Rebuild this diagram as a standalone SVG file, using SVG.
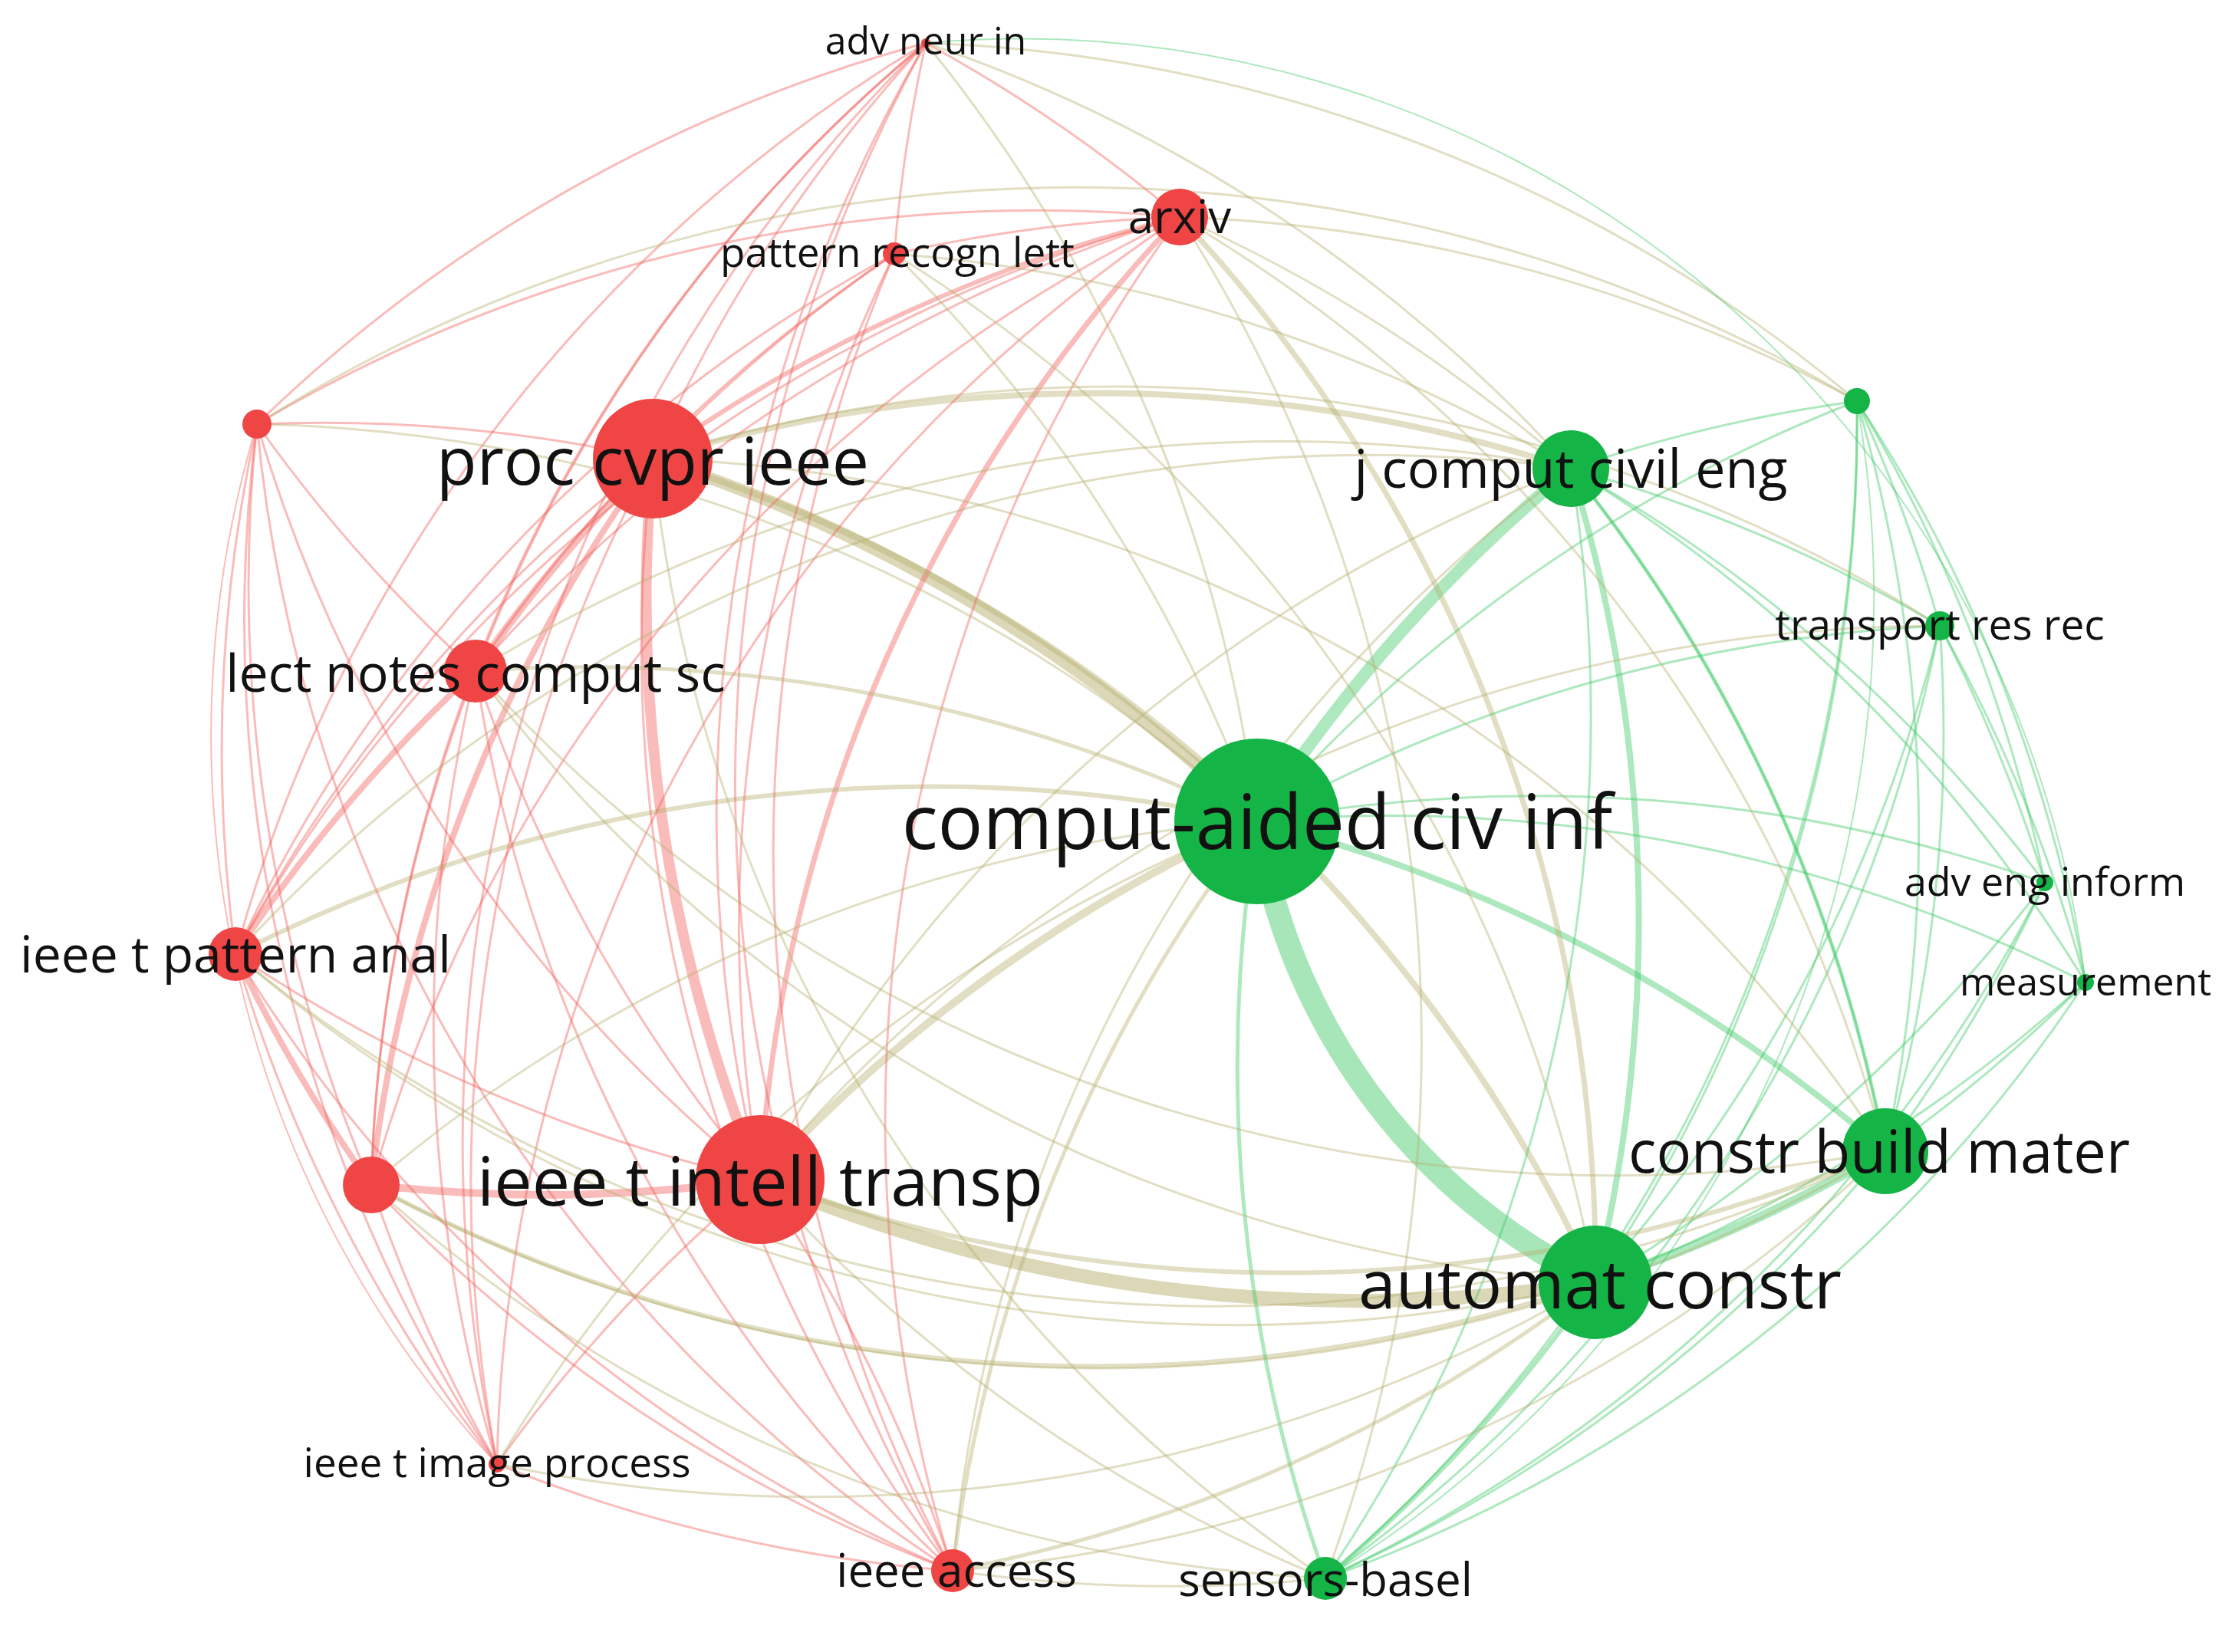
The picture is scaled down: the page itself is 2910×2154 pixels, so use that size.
<svg xmlns="http://www.w3.org/2000/svg" width="2910" height="2154" viewBox="0 0 2910 2154">
<style>
.e{fill:none;stroke-linecap:round}
.r{stroke:#f0605a;stroke-opacity:.42;stroke-width:3}
.g{stroke:#3cc864;stroke-opacity:.42;stroke-width:3}
.m{stroke:#b8b070;stroke-opacity:.42;stroke-width:3}
.rn{fill:#f04545}
.gn{fill:#14b446}
text{font-family:"Open Sans","Noto Sans",sans-serif;fill:#111;text-anchor:middle;dominant-baseline:central}
</style>
<rect width="2910" height="2154" fill="#fff"/>
<g id="connectors">
<path class="e g" style="stroke-width:30;stroke-opacity:.45" d="M1639 1071 A800 800 0 0 0 2080 1672"/>
<path class="e g" style="stroke-width:16" d="M1639 1071 A2000 2000 0 0 1 2048 611"/>
<path class="e m" style="stroke-width:18;stroke-opacity:.5" d="M991 1538 A2000 2000 0 0 0 2080 1672"/>
<path class="e m" style="stroke-width:16;stroke-opacity:.5" d="M851 598 A2000 2000 0 0 1 1639 1071"/>
<path class="e r" style="stroke-width:14" d="M851 598 A2000 2000 0 0 0 991 1538"/>
<path class="e r" style="stroke-width:10" d="M991 1538 A2000 2000 0 0 1 484 1545"/>
<path class="e r" style="stroke-width:10" d="M851 598 A2000 2000 0 0 0 620 875"/>
<path class="e r" style="stroke-width:8" d="M620 875 A2000 2000 0 0 0 307 1244"/>
<path class="e r" style="stroke-width:8" d="M307 1244 A2000 2000 0 0 0 484 1545"/>
<path class="e g" style="stroke-width:8" d="M2048 611 A2000 2000 0 0 1 2080 1672"/>
<path class="e g" style="stroke-width:12" d="M2080 1672 A2000 2000 0 0 0 2458 1501"/>
<path class="e g" style="stroke-width:8" d="M1639 1071 A2000 2000 0 0 1 2458 1501"/>
<path class="e m" style="stroke-width:10" d="M991 1538 A2000 2000 0 0 1 1639 1071"/>
<path class="e r" style="stroke-width:7" d="M991 1538 A2000 2000 0 0 1 1538 283"/>
<path class="e r" style="stroke-width:6" d="M851 598 A2000 2000 0 0 1 1538 283"/>
<path class="e m" style="stroke-width:7" d="M1538 283 A2000 2000 0 0 1 2080 1672"/>
<path class="e m" style="stroke-width:8" d="M851 598 A2000 2000 0 0 1 2048 611"/>
<path class="e m" style="stroke-width:8" d="M851 598 A2000 2000 0 0 1 2080 1672"/>
<path class="e r" style="stroke-width:8" d="M851 598 A2000 2000 0 0 0 484 1545"/>
<path class="e m" style="stroke-width:6" d="M307 1244 A2000 2000 0 0 1 1639 1071"/>
<path class="e m" style="stroke-width:6" d="M484 1545 A2000 2000 0 0 0 2080 1672"/>
<path class="e r" d="M1207 56 A2000 2000 0 0 1 1538 283"/>
<path class="e r" d="M1207 56 A2000 2000 0 0 0 1166 331"/>
<path class="e r" d="M1207 56 A2000 2000 0 0 0 335 553"/>
<path class="e r" d="M1207 56 A2000 2000 0 0 0 851 598"/>
<path class="e r" d="M1207 56 A2000 2000 0 0 0 620 875"/>
<path class="e r" d="M1207 56 A2000 2000 0 0 0 307 1244"/>
<path class="e r" d="M1207 56 A2000 2000 0 0 0 991 1538"/>
<path class="e r" d="M1207 56 A2000 2000 0 0 0 484 1545"/>
<path class="e r" d="M1207 56 A2000 2000 0 0 0 648 1909"/>
<path class="e r" d="M1207 56 A2000 2000 0 0 0 1242 2048"/>
<path class="e r" d="M1538 283 A2000 2000 0 0 0 1166 331"/>
<path class="e r" d="M1538 283 A2000 2000 0 0 0 335 553"/>
<path class="e r" d="M1538 283 A2000 2000 0 0 0 620 875"/>
<path class="e r" d="M1538 283 A2000 2000 0 0 0 307 1244"/>
<path class="e r" d="M1538 283 A2000 2000 0 0 0 484 1545"/>
<path class="e r" d="M1538 283 A2000 2000 0 0 0 648 1909"/>
<path class="e r" d="M1538 283 A2000 2000 0 0 0 1242 2048"/>
<path class="e r" d="M1166 331 A2000 2000 0 0 0 851 598"/>
<path class="e r" d="M1166 331 A2000 2000 0 0 0 620 875"/>
<path class="e r" d="M1166 331 A2000 2000 0 0 0 307 1244"/>
<path class="e r" d="M1166 331 A2000 2000 0 0 0 991 1538"/>
<path class="e r" d="M1166 331 A2000 2000 0 0 0 1242 2048"/>
<path class="e r" d="M335 553 A2000 2000 0 0 1 851 598"/>
<path class="e r" d="M335 553 A2000 2000 0 0 0 620 875"/>
<path class="e r" d="M335 553 A2000 2000 0 0 0 307 1244"/>
<path class="e r" d="M335 553 A2000 2000 0 0 0 991 1538"/>
<path class="e r" d="M335 553 A2000 2000 0 0 0 484 1545"/>
<path class="e r" d="M335 553 A2000 2000 0 0 0 648 1909"/>
<path class="e r" d="M335 553 A2000 2000 0 0 0 1242 2048"/>
<path class="e r" d="M851 598 A2000 2000 0 0 0 307 1244"/>
<path class="e r" d="M851 598 A2000 2000 0 0 0 648 1909"/>
<path class="e r" d="M851 598 A2000 2000 0 0 0 1242 2048"/>
<path class="e r" d="M620 875 A2000 2000 0 0 0 991 1538"/>
<path class="e r" d="M620 875 A2000 2000 0 0 0 484 1545"/>
<path class="e r" d="M620 875 A2000 2000 0 0 0 648 1909"/>
<path class="e r" d="M620 875 A2000 2000 0 0 0 1242 2048"/>
<path class="e r" d="M307 1244 A2000 2000 0 0 0 991 1538"/>
<path class="e r" d="M307 1244 A2000 2000 0 0 0 648 1909"/>
<path class="e r" d="M307 1244 A2000 2000 0 0 0 1242 2048"/>
<path class="e r" d="M484 1545 A2000 2000 0 0 0 648 1909"/>
<path class="e r" d="M484 1545 A2000 2000 0 0 0 1242 2048"/>
<path class="e r" d="M991 1538 A2000 2000 0 0 0 648 1909"/>
<path class="e r" d="M991 1538 A2000 2000 0 0 1 1242 2048"/>
<path class="e r" d="M648 1909 A2000 2000 0 0 0 1242 2048"/>
<path class="e r" style="stroke-width:2" d="M335 553 A1400 1400 0 0 0 648 1909"/>
<path class="e g" d="M2048 611 A2000 2000 0 0 1 2421 523"/>
<path class="e g" d="M2048 611 A2000 2000 0 0 1 2529 816"/>
<path class="e g" d="M2048 611 A2000 2000 0 0 1 2666 1151"/>
<path class="e g" d="M2048 611 A2000 2000 0 0 1 2719 1281"/>
<path class="e g" d="M2048 611 A2000 2000 0 0 1 2458 1501"/>
<path class="e g" d="M2048 611 A2000 2000 0 0 1 1728 2058"/>
<path class="e g" d="M2421 523 A2000 2000 0 0 1 2529 816"/>
<path class="e g" d="M2421 523 A2000 2000 0 0 1 2666 1151"/>
<path class="e g" d="M2421 523 A2000 2000 0 0 1 2719 1281"/>
<path class="e g" d="M2421 523 A2000 2000 0 0 1 2458 1501"/>
<path class="e g" d="M2421 523 A2000 2000 0 0 1 2080 1672"/>
<path class="e g" d="M2421 523 A2000 2000 0 0 0 1639 1071"/>
<path class="e g" d="M2421 523 A2000 2000 0 0 1 1728 2058"/>
<path class="e g" d="M2529 816 A2000 2000 0 0 1 2666 1151"/>
<path class="e g" d="M2529 816 A2000 2000 0 0 1 2719 1281"/>
<path class="e g" d="M2529 816 A2000 2000 0 0 1 2458 1501"/>
<path class="e g" d="M2529 816 A2000 2000 0 0 1 2080 1672"/>
<path class="e g" d="M2529 816 A2000 2000 0 0 0 1639 1071"/>
<path class="e g" d="M2529 816 A2000 2000 0 0 1 1728 2058"/>
<path class="e g" d="M2666 1151 A2000 2000 0 0 1 2458 1501"/>
<path class="e g" d="M2666 1151 A2000 2000 0 0 1 2080 1672"/>
<path class="e g" d="M2666 1151 A2000 2000 0 0 0 1639 1071"/>
<path class="e g" d="M2666 1151 A2000 2000 0 0 1 1728 2058"/>
<path class="e g" d="M2719 1281 A2000 2000 0 0 1 2458 1501"/>
<path class="e g" d="M2719 1281 A2000 2000 0 0 1 2080 1672"/>
<path class="e g" d="M2719 1281 A2000 2000 0 0 0 1639 1071"/>
<path class="e g" d="M2719 1281 A2000 2000 0 0 1 1728 2058"/>
<path class="e g" d="M2458 1501 A2000 2000 0 0 1 1728 2058"/>
<path class="e g" style="stroke-width:6" d="M2080 1672 A2000 2000 0 0 1 1728 2058"/>
<path class="e g" style="stroke-width:5" d="M1639 1071 A2000 2000 0 0 0 1728 2058"/>
<path class="e g" style="stroke-width:5" d="M2048 611 A2000 2000 0 0 1 2458 1501"/>
<path class="e m" d="M1538 283 A2000 2000 0 0 1 2048 611"/>
<path class="e m" d="M1538 283 A2000 2000 0 0 1 2458 1501"/>
<path class="e m" d="M1538 283 A2000 2000 0 0 1 2421 523"/>
<path class="e m" d="M1538 283 A2000 2000 0 0 1 1728 2058"/>
<path class="e m" d="M1207 56 A2000 2000 0 0 1 2421 523"/>
<path class="e m" d="M1207 56 A2000 2000 0 0 1 1639 1071"/>
<path class="e m" d="M1207 56 A2000 2000 0 0 1 2048 611"/>
<path class="e m" d="M1166 331 A2000 2000 0 0 1 1639 1071"/>
<path class="e m" d="M1166 331 A2000 2000 0 0 1 2080 1672"/>
<path class="e m" d="M1166 331 A2000 2000 0 0 1 2048 611"/>
<path class="e m" d="M335 553 A2000 2000 0 0 1 1639 1071"/>
<path class="e m" d="M851 598 A2000 2000 0 0 1 2458 1501"/>
<path class="e m" d="M851 598 A2000 2000 0 0 1 2529 816"/>
<path class="e m" d="M851 598 A2000 2000 0 0 0 1728 2058"/>
<path class="e m" style="stroke-width:5" d="M620 875 A2000 2000 0 0 1 1639 1071"/>
<path class="e m" d="M620 875 A2000 2000 0 0 1 2048 611"/>
<path class="e m" d="M620 875 A2000 2000 0 0 0 2080 1672"/>
<path class="e m" d="M620 875 A2000 2000 0 0 0 2458 1501"/>
<path class="e m" d="M307 1244 A2000 2000 0 0 1 2048 611"/>
<path class="e m" d="M307 1244 A2000 2000 0 0 0 2080 1672"/>
<path class="e m" d="M307 1244 A2000 2000 0 0 0 2458 1501"/>
<path class="e m" d="M484 1545 A2000 2000 0 0 1 1639 1071"/>
<path class="e m" d="M484 1545 A2000 2000 0 0 0 2458 1501"/>
<path class="e m" d="M991 1538 A2000 2000 0 0 1 2048 611"/>
<path class="e m" style="stroke-width:6" d="M991 1538 A2000 2000 0 0 0 2458 1501"/>
<path class="e m" d="M991 1538 A2000 2000 0 0 0 1728 2058"/>
<path class="e m" d="M991 1538 A2000 2000 0 0 1 2529 816"/>
<path class="e m" d="M648 1909 A2000 2000 0 0 1 1639 1071"/>
<path class="e m" d="M648 1909 A2000 2000 0 0 0 2080 1672"/>
<path class="e m" style="stroke-width:5" d="M1242 2048 A2000 2000 0 0 1 1639 1071"/>
<path class="e m" style="stroke-width:5" d="M1242 2048 A2000 2000 0 0 0 2080 1672"/>
<path class="e m" d="M1242 2048 A2000 2000 0 0 0 1728 2058"/>
<path class="e m" d="M1242 2048 A2000 2000 0 0 0 2458 1501"/>
<path class="e m" d="M1242 2048 A2000 2000 0 0 1 2048 611"/>
<path class="e m" d="M484 1545 A2000 2000 0 0 0 1728 2058"/>
<path class="e m" d="M335 553 A2000 2000 0 0 1 2421 523"/>
<path class="e g" style="stroke-width:2" d="M1207 56 A1400 1400 0 0 1 2719 1281"/>
<path class="e g" style="stroke-width:2" d="M2421 523 A1500 1500 0 0 1 1728 2058"/>
</g>
<g id="n-adv-neur-in"><circle class="rn" cx="1207" cy="56" r="6"/><text x="1207" y="52" font-size="50">adv neur in</text></g>
<g id="n-arxiv"><circle class="rn" cx="1538" cy="283" r="37"/><text x="1538" y="281" font-size="60">arxiv</text></g>
<g id="n-pattern-recogn-lett"><circle class="rn" cx="1166" cy="331" r="15"/><text x="1170" y="327" font-size="53">pattern recogn lett</text></g>
<g id="n-u1"><circle class="rn" cx="335" cy="553" r="19"/></g>
<g id="n-proc-cvpr-ieee"><circle class="rn" cx="851" cy="598" r="78"/><text x="851" y="598" font-size="86">proc cvpr ieee</text></g>
<g id="n-j-comput-civil-eng"><circle class="gn" cx="2048" cy="611" r="50"/><text x="2048" y="609" font-size="70">j comput civil eng</text></g>
<g id="n-u2"><circle class="gn" cx="2421" cy="523" r="17"/></g>
<g id="n-transport-res-rec"><circle class="gn" cx="2529" cy="816" r="19"/><text x="2529" y="812" font-size="55">transport res rec</text></g>
<g id="n-lect-notes-comput-sc"><circle class="rn" cx="620" cy="875" r="41"/><text x="620" y="875" font-size="68">lect notes comput sc</text></g>
<g id="n-comput-aided-civ-inf"><circle class="gn" cx="1639" cy="1071" r="108"/><text x="1639" y="1069" font-size="98">comput-aided civ inf</text></g>
<g id="n-adv-eng-inform"><circle class="gn" cx="2666" cy="1151" r="11"/><text x="2666" y="1147" font-size="52">adv eng inform</text></g>
<g id="n-measurement"><circle class="gn" cx="2719" cy="1281" r="11"/><text x="2719" y="1279" font-size="50">measurement</text></g>
<g id="n-ieee-t-pattern-anal"><circle class="rn" cx="307" cy="1244" r="35"/><text x="307" y="1242" font-size="66">ieee t pattern anal</text></g>
<g id="n-u3"><circle class="rn" cx="484" cy="1545" r="37"/></g>
<g id="n-ieee-t-intell-transp"><circle class="rn" cx="991" cy="1538" r="84"/><text x="991" y="1538" font-size="88">ieee t intell transp</text></g>
<g id="n-constr-build-mater"><circle class="gn" cx="2458" cy="1501" r="56"/><text x="2450" y="1499" font-size="76">constr build mater</text></g>
<g id="n-automat-constr"><circle class="gn" cx="2080" cy="1672" r="74"/><text x="2086" y="1672" font-size="88">automat constr</text></g>
<g id="n-ieee-t-image-process"><circle class="rn" cx="648" cy="1909" r="11"/><text x="648" y="1905" font-size="53">ieee t image process</text></g>
<g id="n-ieee-access"><circle class="rn" cx="1242" cy="2048" r="28"/><text x="1247" y="2046" font-size="60">ieee access</text></g>
<g id="n-sensors-basel"><circle class="gn" cx="1728" cy="2058" r="28"/><text x="1728" y="2058" font-size="60">sensors-basel</text></g>
</svg>
